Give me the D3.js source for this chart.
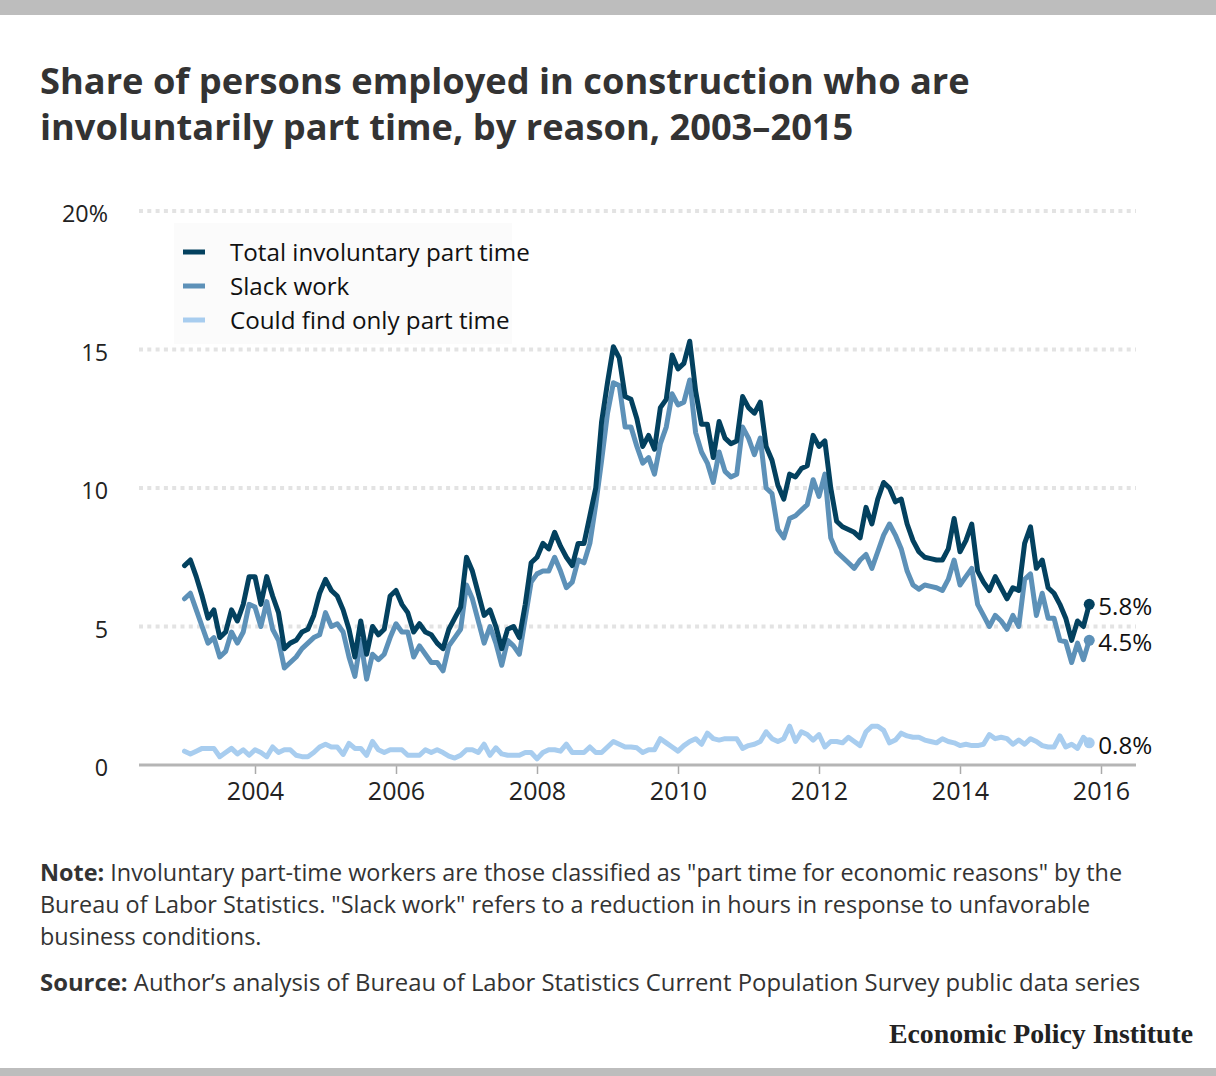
<!DOCTYPE html>
<html>
<head>
<meta charset="utf-8">
<script src="https://cdn.jsdelivr.net/npm/d3@7"></script>
<style>
  html, body { margin: 0; padding: 0; background: #fff; }
  svg { display: block; font-family: "Open Sans", Lato, sans-serif; }
</style>
</head>
<body>
<svg id="chart" width="1216" height="1076"></svg>
<script>
// ---- Data (monthly, Jan 2003 – Nov 2015), percent ----
const startYear = 2003;
const seriesNames = ["Total involuntary part time", "Slack work", "Could find only part time"];
const total = [
  7.2, 7.4, 6.8, 6.1, 5.3, 5.6, 4.6, 4.8, 5.6, 5.2, 5.8, 6.8,
  6.8, 5.8, 6.8, 6.1, 5.5, 4.2, 4.4, 4.5, 4.8, 4.9, 5.4, 6.2,
  6.7, 6.3, 6.1, 5.6, 4.9, 3.9, 5.2, 4.0, 5.0, 4.7, 4.9, 6.1,
  6.3, 5.8, 5.5, 4.8, 5.1, 4.8, 4.7, 4.4, 4.2, 4.9, 5.3, 5.7,
  7.5, 7.0, 6.2, 5.4, 5.6, 5.0, 4.2, 4.9, 5.0, 4.6, 5.8, 7.3,
  7.5, 8.0, 7.8, 8.4, 7.9, 7.5, 7.2, 8.0, 8.0, 9.0, 10.0, 12.4,
  13.8, 15.1, 14.7, 13.3, 13.2, 12.5, 11.5, 11.9, 11.4, 12.9, 13.2, 14.8,
  14.3, 14.5, 15.3, 13.5, 12.3, 12.3, 11.1, 12.4, 11.8, 11.6, 11.7, 13.3,
  12.9, 12.7, 13.1, 11.5, 11.0, 10.1, 9.6, 10.5, 10.4, 10.7, 10.8, 11.9,
  11.5, 11.7, 10.0, 8.8, 8.6, 8.5, 8.4, 8.2, 9.3, 8.7, 9.6, 10.2,
  10.0, 9.5, 9.6, 8.7, 8.1, 7.7, 7.5, 7.45, 7.4, 7.4, 7.8, 8.9,
  7.7, 8.1, 8.7, 7.0, 6.6, 6.3, 6.8, 6.4, 6.0, 6.4, 6.3, 8.0,
  8.6, 7.1, 7.4, 6.4, 6.2, 5.8, 5.3, 4.5, 5.2, 5.0, 5.8
];
const slack = [
  6.0, 6.2, 5.6, 5.0, 4.4, 4.6, 3.9, 4.1, 4.8, 4.4, 4.8, 5.8,
  5.7, 5.0, 5.9, 4.9, 4.5, 3.5, 3.7, 3.9, 4.2, 4.4, 4.6, 4.7,
  5.5, 5.0, 5.1, 4.8, 3.9, 3.2, 4.5, 3.1, 4.0, 3.8, 4.0, 4.6,
  5.1, 4.8, 4.8, 3.9, 4.3, 4.0, 3.7, 3.7, 3.4, 4.3, 4.6, 4.9,
  6.5, 6.0, 5.2, 4.4, 5.0, 4.4, 3.6, 4.5, 4.3, 4.0, 5.3, 6.6,
  6.9, 7.0, 7.0, 7.5, 7.0, 6.4, 6.6, 7.4, 7.3, 8.0, 9.4, 11.0,
  12.7, 13.8, 13.7, 12.2, 12.2, 11.5, 10.9, 11.1, 10.5, 11.6, 12.2, 13.4,
  13.0, 13.1, 13.9, 12.0, 11.3, 10.9, 10.2, 11.3, 10.6, 10.4, 10.5, 12.2,
  11.8, 11.2, 11.8, 10.0, 9.8, 8.5, 8.2, 8.9, 9.0, 9.2, 9.4, 10.3,
  9.7, 10.5, 8.2, 7.7, 7.5, 7.3, 7.1, 7.4, 7.6, 7.1, 7.7, 8.3,
  8.7, 8.3, 7.8, 7.0, 6.5, 6.35, 6.5, 6.45, 6.4, 6.3, 6.7, 7.4,
  6.5, 6.8, 7.1, 5.8, 5.4, 5.0, 5.4, 5.2, 4.9, 5.4, 5.0, 6.7,
  6.9, 5.4, 6.2, 5.3, 5.3, 4.5, 4.45, 3.7, 4.4, 3.8, 4.5
];
const onlyPT = [
  0.5, 0.4, 0.5, 0.6, 0.6, 0.6, 0.3, 0.45, 0.6, 0.4, 0.55, 0.35,
  0.55, 0.45, 0.3, 0.65, 0.45, 0.55, 0.55, 0.35, 0.3, 0.3, 0.45, 0.65,
  0.75, 0.65, 0.65, 0.38, 0.78, 0.6, 0.6, 0.35, 0.85, 0.55, 0.45, 0.55,
  0.55, 0.55, 0.35, 0.35, 0.35, 0.55, 0.45, 0.55, 0.45, 0.32, 0.25, 0.35,
  0.55, 0.55, 0.45, 0.75, 0.35, 0.62, 0.4, 0.35, 0.35, 0.35, 0.45, 0.45,
  0.22, 0.45, 0.55, 0.55, 0.5, 0.75, 0.45, 0.45, 0.45, 0.65, 0.45, 0.45,
  0.65, 0.85, 0.75, 0.65, 0.65, 0.62, 0.45, 0.55, 0.55, 0.95, 0.8, 0.65,
  0.5, 0.7, 0.85, 0.95, 0.75, 1.15, 0.95, 0.9, 0.95, 0.95, 0.95, 0.6,
  0.7, 0.75, 0.85, 1.2, 0.95, 0.85, 0.95, 1.4, 0.85, 1.2, 1.1, 0.9,
  1.1, 0.65, 0.85, 0.85, 0.8, 1.0, 0.85, 0.7, 1.2, 1.4, 1.4, 1.25,
  0.8, 0.9, 1.15, 1.05, 1.0, 1.0, 0.9, 0.85, 0.8, 0.95, 0.85, 0.8,
  0.7, 0.75, 0.7, 0.7, 0.75, 1.1, 0.95, 1.0, 0.95, 0.75, 0.9, 0.75,
  0.95, 0.85, 0.7, 0.65, 0.65, 1.05, 0.65, 0.75, 0.6, 1.0, 0.8
];
const yTicks = [0, 5, 10, 15, 20];
const yTickLabels = ["0", "5", "10", "15", "20%"];
const xTicks = [2004, 2006, 2008, 2010, 2012, 2014, 2016];
const endLabels = ["5.8%", "4.5%", "0.8%"];
const colors = ["#03415f", "#5d91b8", "#a8cdef"];

const svg = d3.select("#chart");
const W = 1216;

// scale a text element's font size so that its width hits a target
function fitSize(sel, target, base) {
  const w = sel.node().getBBox().width;
  const s = base * target / w;
  sel.style("font-size", s + "px");
  return s;
}

// frame bars
svg.append("rect").attr("x", 0).attr("y", 0).attr("width", W).attr("height", 15).attr("fill", "#bdbdbd");
svg.append("rect").attr("x", 0).attr("y", 1068).attr("width", W).attr("height", 8).attr("fill", "#bdbdbd");

// title
const t1 = svg.append("text").attr("x", 40).attr("y", 94).attr("fill", "#333")
  .style("font-weight", 700).style("font-size", "34px")
  .text("Share of persons employed in construction who are");
const tSize = fitSize(t1, 930, 34);
svg.append("text").attr("x", 40).attr("y", 140).attr("fill", "#333")
  .style("font-weight", 700).style("font-size", tSize + "px")
  .text("involuntarily part time, by reason, 2003\u20132015");

// scales
const x = d3.scaleLinear().domain([2003, 2016]).range([184.5, 1101]);
const y = d3.scaleLinear().domain([0, 20]).range([765, 211]);
const plotLeft = 139, plotRight = 1136;

// gridlines
svg.append("g").selectAll("line").data(yTicks.filter(d => d > 0)).join("line")
  .attr("x1", plotLeft).attr("x2", plotRight)
  .attr("y1", d => y(d)).attr("y2", d => y(d))
  .attr("stroke", "#e3e3e3").attr("stroke-width", 4).attr("stroke-dasharray", "4,4.3");

// y labels
const yl = svg.append("g").selectAll("text").data(yTicks).join("text")
  .attr("x", 108).attr("y", d => y(d) + 3).attr("dy", "0.36em")
  .attr("text-anchor", "end").attr("fill", "#222").style("font-size", "20px")
  .text((d, i) => yTickLabels[i]);
const ySize = fitSize(yl.filter(d => d === 20), 46, 20);
yl.style("font-size", ySize + "px");

// x axis
const xAxis = d3.axisBottom(x).tickValues(xTicks).tickFormat(d3.format("d")).tickSize(9).tickPadding(8);
const gx = svg.append("g").attr("transform", `translate(0,${y(0)})`).call(xAxis);
gx.select(".domain").remove();
gx.selectAll(".tick line").attr("stroke", "#aaa").attr("stroke-width", 1.5);
const xt = gx.selectAll(".tick text").attr("fill", "#222").style("font-size", "20px")
  .style("font-family", "'Open Sans', sans-serif");
const xSize = fitSize(d3.select(xt.nodes()[0]), 58, 20);
xt.style("font-size", xSize + "px");
svg.append("line").attr("x1", plotLeft).attr("x2", plotRight).attr("y1", y(0)).attr("y2", y(0))
  .attr("stroke", "#b5b5b5").attr("stroke-width", 3);

// legend
const lg = svg.append("g");
lg.append("rect").attr("x", 174).attr("y", 223).attr("width", 338).attr("height", 121).attr("fill", "#fbfbfb");
let legSize = 22;
seriesNames.forEach((name, i) => {
  const yy = 252 + i * 34;
  lg.append("line").attr("x1", 183).attr("x2", 205).attr("y1", yy).attr("y2", yy)
    .attr("stroke", colors[i]).attr("stroke-width", 5);
  const t = lg.append("text").attr("x", 230).attr("y", yy).attr("dy", "0.36em")
    .attr("fill", "#111").style("font-size", legSize + "px").text(name);
  if (i === 0) legSize = fitSize(t, 300, 22);
});

// lines
const dataSets = [total, slack, onlyPT];
const line = d3.line().x((d, i) => x(startYear + i / 12)).y(d => y(d));
[2, 1, 0].forEach(k => {
  svg.append("path").datum(dataSets[k]).attr("d", line)
    .attr("fill", "none").attr("stroke", colors[k]).attr("stroke-width", 5)
    .attr("stroke-linejoin", "round").attr("stroke-linecap", "round");
});

// end dots and labels
let endSize = 21;
dataSets.forEach((s, k) => {
  const n = s.length - 1;
  const cx = x(startYear + n / 12), cy = y(s[n]);
  svg.append("circle").attr("cx", cx).attr("cy", cy).attr("r", 5.5).attr("fill", colors[k]);
  const t = svg.append("text").attr("x", cx + 9).attr("y", cy + 2).attr("dy", "0.36em")
    .attr("fill", "#111").style("font-size", endSize + "px").text(endLabels[k]);
  if (k === 0) endSize = fitSize(t, 54, 21);
});

// notes
const noteLines = [
  [["Note:", true], [" Involuntary part-time workers are those classified as \"part time for economic reasons\" by the", false]],
  [["Bureau of Labor Statistics. \"Slack work\" refers to a reduction in hours in response to unfavorable", false]],
  [["business conditions.", false]]
];
let noteSize = 21;
noteLines.forEach((parts, i) => {
  const t = svg.append("text").attr("x", 40).attr("y", 881 + i * 32).attr("fill", "#333")
    .style("font-size", noteSize + "px");
  parts.forEach(([txt, bold]) => t.append("tspan").style("font-weight", bold ? 700 : 400).text(txt));
  if (i === 0) noteSize = fitSize(t, 1083, 21);
});

const src = svg.append("text").attr("x", 40).attr("y", 991).attr("fill", "#333").style("font-size", noteSize + "px");
src.append("tspan").style("font-weight", 700).text("Source:");
src.append("tspan").text(" Author\u2019s analysis of Bureau of Labor Statistics Current Population Survey public data series");
fitSize(src, 1100, noteSize);

const epi = svg.append("text").attr("x", 1193).attr("y", 1043).attr("text-anchor", "end")
  .attr("fill", "#222").style("font-family", "'Liberation Serif', 'DejaVu Serif', serif")
  .style("font-weight", 700).style("font-size", "27px").text("Economic Policy Institute");
epi.attr("textLength", 304).attr("lengthAdjust", "spacingAndGlyphs");
</script>
</body>
</html>
